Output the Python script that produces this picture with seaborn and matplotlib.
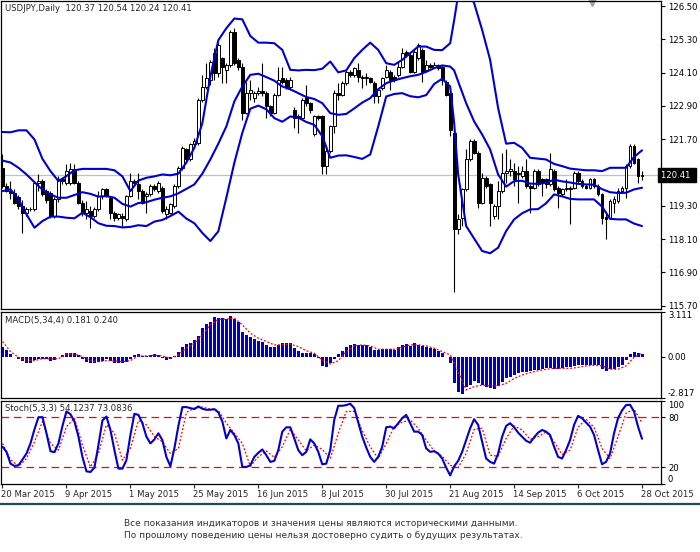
import matplotlib
matplotlib.use('Agg')
import matplotlib.pyplot as plt
import matplotlib.transforms as mtransforms
from matplotlib.lines import Line2D
import seaborn as sns

# --- chart data ---
title_text = 'USDJPY,Daily  120.37 120.54 120.24 120.41'
macd_text = 'MACD(5,34,4) 0.181 0.240'
stoch_text = 'Stoch(5,3,3) 54.1237 73.0836'
footer_lines = ['Все показания индикаторов и значения цены являются историческими данными.',
                'По прошлому поведению цены нельзя достоверно судить о будущих результатах.']

opens = [120.67, 120.01, 119.83, 119.77, 119.60, 119.29, 119.05, 119.17, 119.17, 120.13,
         120.19, 119.83, 119.77, 118.93, 119.53, 120.25, 120.13, 120.13, 120.61, 120.13,
         119.41, 119.05, 119.11, 118.93, 119.17, 119.65, 119.89, 119.59, 119.05, 118.85,
         118.95, 118.81, 119.65, 120.19, 120.07, 119.83, 119.65, 119.71, 120.01, 119.83,
         119.95, 118.99, 119.05, 119.29, 120.01, 120.67, 121.33, 120.97, 121.51, 121.57,
         123.12, 123.60, 123.84, 124.80, 124.08, 124.62, 124.20, 124.38, 125.58, 124.56,
         124.32, 122.64, 123.36, 123.18, 123.36, 123.42, 123.36, 122.88, 122.64, 123.30,
         123.90, 123.84, 123.60, 122.76, 122.46, 122.46, 123.18, 123.00, 121.87, 122.52,
         122.52, 120.73, 121.27, 122.16, 123.36, 123.30, 123.72, 124.14, 124.02, 124.20,
         123.96, 123.90, 123.90, 123.72, 123.24, 123.54, 123.96, 124.14, 123.96, 124.02,
         124.32, 124.86, 124.74, 124.14, 124.62, 124.92, 124.20, 124.38, 124.32, 124.38,
         124.32, 123.78, 123.36, 121.93, 118.45, 118.87, 119.89, 120.97, 121.63, 121.21,
         119.41, 120.31, 120.07, 118.93, 119.29, 119.83, 120.49, 120.55, 120.55, 120.43,
         120.37, 120.55, 120.01, 119.95, 120.55, 120.25, 120.25, 120.07, 120.55, 119.95,
         119.71, 119.89, 119.95, 119.95, 120.49, 120.19, 120.01, 119.95, 120.25, 120.01,
         119.71, 118.90, 118.87, 119.41, 119.47, 119.83, 119.95, 120.73, 121.45, 120.97,
         120.37]
highs = [121.18, 120.13, 120.19, 119.90, 119.70, 119.50, 119.25, 119.25, 120.20, 120.43,
         120.25, 119.90, 119.85, 119.60, 120.37, 120.30, 120.79, 120.85, 120.79, 120.19,
         119.50, 119.47, 119.29, 119.25, 119.83, 119.95, 119.95, 119.65, 119.10, 119.05,
         119.05, 119.70, 120.49, 120.25, 120.49, 119.90, 119.80, 120.07, 120.07, 120.20,
         120.01, 119.29, 119.40, 120.07, 120.73, 121.45, 121.39, 121.57, 121.75, 123.18,
         124.02, 124.44, 124.56, 124.98, 125.16, 124.68, 124.44, 125.64, 125.70, 124.62,
         124.44, 123.78, 123.84, 123.42, 123.60, 124.44, 123.42, 122.95, 123.36, 124.32,
         124.32, 123.90, 123.96, 122.85, 122.60, 123.20, 123.66, 123.05, 122.58, 122.58,
         122.58, 121.33, 122.20, 123.48, 123.72, 123.80, 124.20, 124.20, 124.32, 124.44,
         124.00, 124.08, 123.96, 123.80, 123.55, 123.96, 124.38, 124.20, 124.02, 124.50,
         124.98, 124.92, 124.80, 124.92, 125.16, 125.00, 124.56, 124.44, 124.50, 124.42,
         124.38, 123.84, 123.42, 122.00, 119.00, 119.95, 121.33, 121.69, 121.70, 121.27,
         120.49, 120.37, 120.13, 119.35, 120.19, 121.21, 121.33, 120.97, 120.85, 120.73,
         120.73, 120.97, 120.07, 120.61, 120.61, 120.30, 120.31, 121.21, 120.61, 120.01,
         119.95, 120.25, 120.01, 120.55, 120.55, 120.25, 120.07, 120.31, 120.31, 120.07,
         119.77, 119.00, 119.53, 119.65, 119.95, 120.01, 120.79, 121.51, 121.51, 121.03,
         120.54]
lows = [119.95, 119.80, 119.53, 119.35, 119.17, 118.33, 118.95, 119.10, 119.10, 119.83,
        119.65, 119.41, 118.87, 118.85, 119.45, 120.10, 120.05, 120.05, 120.07, 119.35,
        118.93, 118.81, 118.51, 118.87, 119.10, 119.55, 119.60, 118.81, 118.75, 118.80,
        118.57, 118.75, 119.60, 120.05, 119.53, 119.35, 119.05, 119.65, 119.83, 119.77,
        119.05, 118.81, 119.00, 119.23, 119.95, 120.60, 120.85, 120.90, 121.45, 121.50,
        123.05, 123.50, 123.66, 123.84, 123.96, 123.72, 123.72, 124.30, 124.38, 124.20,
        122.40, 122.60, 123.12, 123.05, 123.30, 123.24, 122.46, 122.55, 122.60, 123.24,
        123.70, 123.50, 123.48, 122.10, 121.93, 122.40, 122.90, 122.65, 121.80, 122.40,
        120.43, 120.43, 121.20, 121.93, 123.12, 123.24, 123.66, 123.96, 123.96, 123.78,
        123.54, 123.66, 123.72, 123.00, 123.00, 123.48, 123.90, 123.48, 123.78, 123.96,
        124.26, 124.68, 124.08, 124.08, 124.56, 123.78, 124.14, 124.26, 124.26, 124.20,
        123.66, 123.24, 121.81, 116.18, 118.27, 118.57, 119.83, 120.90, 121.15, 119.23,
        119.35, 119.95, 118.57, 118.81, 118.81, 119.77, 120.13, 120.37, 120.01, 119.41,
        120.30, 119.95, 119.05, 119.89, 120.00, 119.65, 119.95, 120.01, 119.83, 119.23,
        119.65, 119.83, 118.63, 119.89, 120.13, 119.95, 119.89, 119.89, 119.95, 119.65,
        118.63, 118.09, 118.81, 119.05, 119.41, 119.77, 119.59, 120.67, 120.79, 120.13,
        120.24]
closes = [120.01, 119.83, 119.77, 119.41, 119.29, 119.05, 119.20, 119.17, 120.13, 120.19,
          119.71, 119.50, 118.93, 119.53, 120.25, 120.19, 120.55, 120.61, 120.13, 119.41,
          119.05, 119.17, 118.93, 119.17, 119.65, 119.89, 119.65, 119.05, 118.85, 118.99,
          118.85, 119.65, 120.19, 120.13, 119.83, 119.41, 119.71, 120.01, 119.89, 120.13,
          119.11, 119.17, 119.35, 120.01, 120.67, 121.39, 120.97, 121.51, 121.63, 123.12,
          123.60, 123.90, 124.50, 124.08, 125.10, 124.32, 124.38, 125.58, 124.44, 124.32,
          122.64, 123.36, 123.48, 123.36, 123.42, 123.36, 122.88, 122.64, 123.30, 123.84,
          123.78, 123.60, 123.84, 122.46, 122.52, 123.12, 123.00, 122.76, 122.52, 122.46,
          120.73, 121.27, 122.16, 123.36, 123.30, 123.72, 124.14, 124.02, 124.26, 123.96,
          123.90, 123.96, 123.78, 123.24, 123.48, 123.90, 124.20, 123.84, 123.84, 124.32,
          124.80, 124.74, 124.14, 124.86, 125.10, 124.14, 124.38, 124.32, 124.38, 124.26,
          123.84, 123.30, 122.04, 118.45, 118.81, 119.89, 120.97, 121.63, 121.21, 119.41,
          120.31, 120.01, 119.41, 119.29, 119.83, 120.49, 120.55, 120.61, 120.25, 120.49,
          120.55, 120.01, 119.95, 120.55, 120.07, 120.13, 120.07, 120.61, 119.89, 119.77,
          119.89, 119.95, 119.89, 120.49, 120.19, 120.01, 119.95, 120.25, 120.01, 119.71,
          118.87, 118.84, 119.47, 119.53, 119.83, 119.95, 120.73, 121.45, 120.85, 120.37,
          120.41]

# Bollinger bands, read at these bars
band_idx = list(range(0, 113, 2)) + [113] + list(range(114, 161, 2))
bb_upper = [121.96, 121.95, 122.02, 122.02, 121.69, 120.99, 120.55, 120.19, 120.37, 120.58,
            120.63, 120.63, 120.63, 120.63, 120.58, 120.36, 119.83, 120.21, 120.31, 120.36,
            120.43, 120.40, 120.46, 120.86, 121.39, 122.28, 123.96, 125.27, 125.70, 126.05,
            126.02, 125.42, 125.18, 125.18, 125.16, 124.92, 124.20, 124.18, 124.20, 124.19,
            124.24, 124.50, 124.11, 124.18, 124.62, 124.92, 125.18, 124.92, 124.44, 124.38,
            124.56, 124.80, 125.04, 125.04, 124.92, 124.91, 125.16, 125.99,
            126.90, 127.30, 126.60, 125.64, 124.56, 122.82, 121.54, 121.57, 121.39, 121.03,
            121.00, 120.97, 120.81, 120.73, 120.64, 120.61, 120.58, 120.58, 120.55, 120.67,
            120.67, 120.67, 121.06, 121.30]
bb_middle = [120.93, 120.86, 120.67, 120.43, 120.15, 119.88, 119.71, 119.59, 119.59, 119.69,
             119.79, 119.73, 119.63, 119.65, 119.59, 119.37, 119.27, 119.40, 119.43, 119.52,
             119.59, 119.64, 119.75, 119.91, 120.07, 120.46, 120.97, 121.54, 122.16, 123.06,
             123.60, 124.02, 124.06, 123.94, 123.81, 123.60, 123.50, 123.36, 123.22, 123.15,
             123.00, 122.64, 122.58, 122.61, 122.81, 123.02, 123.18, 123.50, 123.72, 123.82,
             123.90, 123.97, 124.02, 124.13, 124.26, 124.36, 124.32, 124.18,
             123.78, 123.00, 122.34, 121.87, 121.33, 120.43, 119.99, 120.19, 120.20, 120.10,
             120.09, 120.13, 120.24, 120.18, 120.14, 120.09, 120.07, 120.06, 119.90, 119.79,
             119.76, 119.77, 119.89, 119.95]
bb_lower = [119.83, 119.89, 119.53, 118.99, 118.51, 118.75, 118.91, 118.91, 118.87, 118.85,
            119.05, 118.89, 118.67, 118.58, 118.57, 118.52, 118.54, 118.60, 118.57, 118.73,
            118.79, 118.93, 119.09, 118.84, 118.67, 118.32, 118.03, 118.38, 119.59, 120.85,
            121.93, 122.80, 122.91, 122.78, 122.46, 122.33, 122.52, 122.48, 122.32, 122.22,
            121.81, 121.03, 121.11, 121.12, 121.06, 120.99, 121.15, 122.16, 123.24, 123.33,
            123.36, 123.25, 123.21, 123.29, 123.69, 123.88, 123.60, 122.28,
            120.43, 118.57, 118.12, 117.67, 117.59, 117.79, 118.39, 118.81, 119.03, 119.17,
            119.18, 119.39, 119.71, 119.64, 119.55, 119.53, 119.53, 119.53, 119.27, 118.83,
            118.81, 118.81, 118.66, 118.57]

macd_hist = [0.69, 0.46, 0.18, -0.05, -0.18, -0.28, -0.41, -0.41, -0.23, -0.14,
             -0.14, -0.18, -0.28, -0.23, -0.05, 0.12, 0.28, 0.28, 0.23, 0.12,
             -0.18, -0.35, -0.46, -0.46, -0.37, -0.28, -0.18, -0.28, -0.41, -0.41,
             -0.46, -0.35, -0.14, 0.12, 0.18, 0.05, 0.05, 0.09, 0.18, 0.14,
             -0.12, -0.23, -0.18, 0.05, 0.35, 0.69, 0.87, 0.97, 1.15, 1.43,
             1.96, 2.25, 2.42, 2.71, 2.65, 2.65, 2.58, 2.81, 2.58, 2.42,
             1.73, 1.50, 1.33, 1.20, 1.10, 1.04, 0.81, 0.69, 0.69, 0.81,
             0.92, 0.92, 0.92, 0.58, 0.41, 0.28, 0.28, 0.28, 0.18, -0.12,
             -0.64, -0.74, -0.41, -0.18, 0.18, 0.41, 0.69, 0.81, 0.87, 0.81,
             0.81, 0.81, 0.69, 0.46, 0.46, 0.53, 0.53, 0.51, 0.46, 0.69,
             0.81, 0.87, 0.74, 0.92, 0.81, 0.74, 0.64, 0.58, 0.51, 0.41,
             0.28, -0.03, -0.46, -1.79, -2.42, -2.58, -2.07, -1.96, -1.68, -1.84,
             -1.96, -2.07, -2.19, -2.25, -2.02, -1.73, -1.50, -1.38, -1.27, -1.10,
             -1.06, -1.06, -0.97, -0.92, -0.92, -0.87, -0.81, -0.81, -0.87, -0.87,
             -0.81, -0.74, -0.74, -0.64, -0.58, -0.58, -0.58, -0.58, -0.58, -0.58,
             -0.87, -0.97, -0.87, -0.87, -0.74, -0.58, -0.23, 0.18, 0.35, 0.28,
             0.181]
signal_idx = list(range(0, 161, 2))
macd_signal = [1.04, 0.35, -0.05, -0.23, -0.28, -0.14, -0.16, -0.14, 0.18, 0.18,
               0.0, -0.28, -0.35, -0.28, -0.28, -0.35, -0.28, 0.05, 0.05, 0.09,
               0.05, -0.12, 0.12, 0.58, 0.92, 1.50, 2.19, 2.58, 2.58, 2.65,
               2.19, 1.61, 1.27, 1.04, 0.81, 0.81, 0.87, 0.69, 0.41, 0.23,
               -0.23, -0.51, -0.28, 0.35, 0.74, 0.81, 0.74, 0.51, 0.51, 0.51,
               0.64, 0.81, 0.81, 0.74, 0.58, 0.35, 0.12, -1.04, -2.30, -2.07,
               -1.96, -2.02, -2.02, -1.84, -1.50, -1.27, -1.10, -0.97, -0.87, -0.81,
               -0.81, -0.81, -0.74, -0.64, -0.60, -0.64, -0.87, -0.87, -0.64, -0.05,
               0.240]

stoch_main = [44.6, 38.5, 24.4, 21.6, 22.4, 29.3, 36.5, 48.6, 65.5, 80.0,
              80.0, 60.7, 39.3, 38.1, 48.6, 69.5, 86.9, 83.6, 74.8, 56.7,
              32.5, 15.2, 14.4, 19.6, 46.6, 76.0, 80.8, 64.7, 40.6, 18.4,
              18.4, 28.5, 58.7, 84.0, 82.8, 72.8, 56.7, 48.6, 53.4, 60.7,
              52.6, 32.5, 21.2, 42.6, 69.5, 92.1, 92.1, 90.9, 89.7, 92.9,
              90.1, 88.9, 88.9, 89.7, 85.7, 74.8, 54.6, 64.7, 58.7, 48.6,
              20.4, 20.4, 22.4, 32.5, 37.3, 41.4, 34.5, 26.5, 27.7, 40.6,
              62.7, 67.9, 67.9, 54.6, 40.6, 34.5, 38.5, 53.4, 48.6, 38.5,
              23.6, 24.4, 40.6, 76.8, 93.7, 93.7, 94.5, 96.1, 90.9, 73.6,
              56.7, 43.8, 32.5, 26.5, 32.5, 44.6, 67.9, 68.7, 66.7, 72.8,
              78.8, 82.8, 72.8, 62.7, 62.7, 58.7, 42.6, 38.5, 39.3, 36.5,
              30.5, 19.6, 10.3, 21.2, 27.7, 38.5, 52.6, 66.7, 77.6, 70.8,
              50.6, 30.5, 26.5, 24.4, 36.5, 56.7, 69.5, 72.8, 67.9, 61.5,
              56.7, 51.8, 49.4, 55.9, 61.5, 64.7, 62.7, 58.7, 44.6, 32.5,
              30.5, 40.6, 52.6, 70.8, 81.6, 78.8, 73.6, 68.7, 58.7, 40.6,
              23.6, 26.5, 36.5, 60.7, 78.8, 88.1, 94.5, 94.9, 86.9, 68.7,
              54.12]
stoch_signal = [48.6, 29.3, 21.2, 30.5, 50.6, 74.8, 48.6, 40.6, 68.7, 78.8,
                46.6, 20.4, 36.5, 70.8, 60.7, 28.5, 42.6, 76.0, 70.8, 56.7,
                50.6, 36.5, 42.6, 85.7, 90.9, 92.1, 89.7, 88.1, 72.8, 60.7,
                48.6, 21.2, 32.5, 39.7, 31.7, 44.6, 65.5, 52.6, 39.7, 46.6,
                41.4, 30.5, 60.7, 86.9, 86.9, 63.9, 44.6, 30.5, 48.6, 68.7,
                74.0, 76.8, 66.7, 52.6, 39.3, 33.3, 22.4, 19.6, 36.5, 65.5,
                66.7, 34.5, 33.3, 54.6, 69.5, 64.7, 53.4, 56.7, 62.3, 50.6,
                35.3, 40.6, 67.9, 77.6, 67.9, 42.6, 30.5, 56.7, 84.8, 89.7,
                73.08]
stoch_levels = [20, 80]

tick_idx = [0, 16, 32, 48, 64, 80, 96, 112, 128, 144, 160]
tick_labels = ['20 Mar 2015', '9 Apr 2015', '1 May 2015', '25 May 2015', '16 Jun 2015',
               '8 Jul 2015', '30 Jul 2015', '21 Aug 2015', '14 Sep 2015', '6 Oct 2015',
               '28 Oct 2015']
price_ticks = [126.50, 125.30, 124.10, 122.90, 121.70, 119.30, 118.10, 116.90, 115.70]
last_price = 120.41
macd_ticks = [-2.817, 0.0, 3.111]
macd_tick_labels = ['-2.817', '0.00', '3.111']
stoch_ticks = [0, 20, 80, 100]

bars = list(range(len(closes)))

# --- style ---
sns.set_style('white')
plt.rcParams['font.family'] = ['DejaVu Sans']
fs = 6.1
blue = '#0000cc'
red = '#ff0000'

W, H = 700, 552
fig = plt.figure(figsize=(W / 100, H / 100), dpi=100)


def panel(top, bottom):
    return fig.add_axes([0.5 / W, 1 - bottom / H, 660.5 / W, (bottom - top) / H])


ax_p = panel(0.5, 309)
ax_m = panel(311.5, 397.5)
ax_s = panel(400.5, 484)

for ax in (ax_p, ax_m, ax_s):
    ax.set_xlim(-0.5, 164.75)
    for sp in ax.spines.values():
        sp.set_color('black')
        sp.set_linewidth(0.9)
    ax.yaxis.tick_right()
    ax.tick_params(axis='y', right=True, left=False, length=3, width=0.8, pad=2,
                   labelsize=fs, colors='black', direction='out')
    ax.tick_params(axis='x', bottom=False, labelbottom=False)

# --- price panel ---
ax_p.set_ylim(115.58, 126.70)
ax_p.axhline(last_price, color='#c0c0c0', lw=0.9, zorder=1)
ax_p.vlines(bars, lows, highs, color='black', lw=0.8, zorder=2)
body_low = [min(o, c) for o, c in zip(opens, closes)]
body_h = [abs(c - o) for o, c in zip(opens, closes)]
body_fc = ['white' if c >= o else 'black' for o, c in zip(opens, closes)]
ax_p.bar(bars, body_h, bottom=body_low, width=0.72, color=body_fc,
         edgecolor='black', linewidth=0.7, zorder=3)
for band in (bb_upper, bb_middle, bb_lower):
    sns.lineplot(x=band_idx, y=band, ax=ax_p, color=blue, linewidth=1.5, zorder=4)
ax_p.set_yticks(price_ticks)
ax_p.set_yticklabels(['%.2f' % v for v in price_ticks])
ax_p.text(1.0, last_price, '120.41 ', transform=mtransforms.blended_transform_factory(
    ax_p.transAxes, ax_p.transData), color='white', fontsize=fs, va='center', ha='left',
    clip_on=False, bbox=dict(boxstyle='square,pad=0.3', facecolor='black', edgecolor='black'))
ax_p.plot([592 / 661], [1 - 2 / 309], marker='v', color='#a0a0a0', markersize=6,
          transform=ax_p.transAxes, clip_on=False)
ax_p.text(5 / 661, 1 - 8 / 309, title_text, transform=ax_p.transAxes, fontsize=fs,
          va='center', ha='left')

# --- MACD panel ---
ax_m.set_ylim(-2.817, 3.111)
ax_m.bar(bars, macd_hist, width=0.75, color=blue, linewidth=0, zorder=2)
sns.lineplot(x=signal_idx, y=macd_signal, ax=ax_m, color=red, linewidth=0.9,
             linestyle=(0, (1.5, 1.5)), zorder=3)
ax_m.set_yticks(macd_ticks)
ax_m.set_yticklabels(macd_tick_labels)
ax_m.get_yticklabels()[0].set_va('bottom')
ax_m.get_yticklabels()[2].set_va('top')
ax_m.text(5 / 661, 1 - 9 / 86, macd_text, transform=ax_m.transAxes, fontsize=fs,
          va='center', ha='left')

# --- Stochastic panel ---
ax_s.set_ylim(0, 100)
for lv in stoch_levels:
    ax_s.axhline(lv, color=red, lw=0.9, dashes=(6, 4), zorder=1)
sns.lineplot(x=signal_idx, y=stoch_signal, ax=ax_s, color=red, linewidth=0.9,
             linestyle=(0, (1.5, 1.5)), zorder=2)
sns.lineplot(x=bars, y=stoch_main, ax=ax_s, color=blue, linewidth=1.5, zorder=3)
ax_s.set_yticks(stoch_ticks)
ax_s.set_yticklabels([str(v) for v in stoch_ticks])
ax_s.get_yticklabels()[0].set_va('bottom')
ax_s.get_yticklabels()[3].set_va('top')
ax_s.text(5 / 661, 1 - 8 / 83.5, stoch_text, transform=ax_s.transAxes, fontsize=fs,
          va='center', ha='left')
ax_s.tick_params(axis='x', bottom=True, labelbottom=True, length=3, width=0.8, pad=1,
                 labelsize=fs, direction='out')
ax_s.set_xticks(tick_idx)
ax_s.set_xticklabels(tick_labels, ha='left')
shift = mtransforms.ScaledTranslation(-1.5 / 100, 0, fig.dpi_scale_trans)
for lbl in ax_s.get_xticklabels():
    lbl.set_transform(lbl.get_transform() + shift)

for ax in (ax_p, ax_m, ax_s):
    ax.set_xlabel('')
    ax.set_ylabel('')
    leg = ax.get_legend()
    if leg:
        leg.remove()

# --- footer ---
fig.add_artist(Line2D([0, 1], [1 - 503.5 / H] * 2, color='#1f4a5c', lw=1.6))
fig.text(124 / W, 1 - 523 / H, footer_lines[0], fontsize=6.5, color='#333333', va='center')
fig.text(124 / W, 1 - 536 / H, footer_lines[1], fontsize=6.5, color='#333333', va='center')

fig.savefig('out.png', dpi=100)
